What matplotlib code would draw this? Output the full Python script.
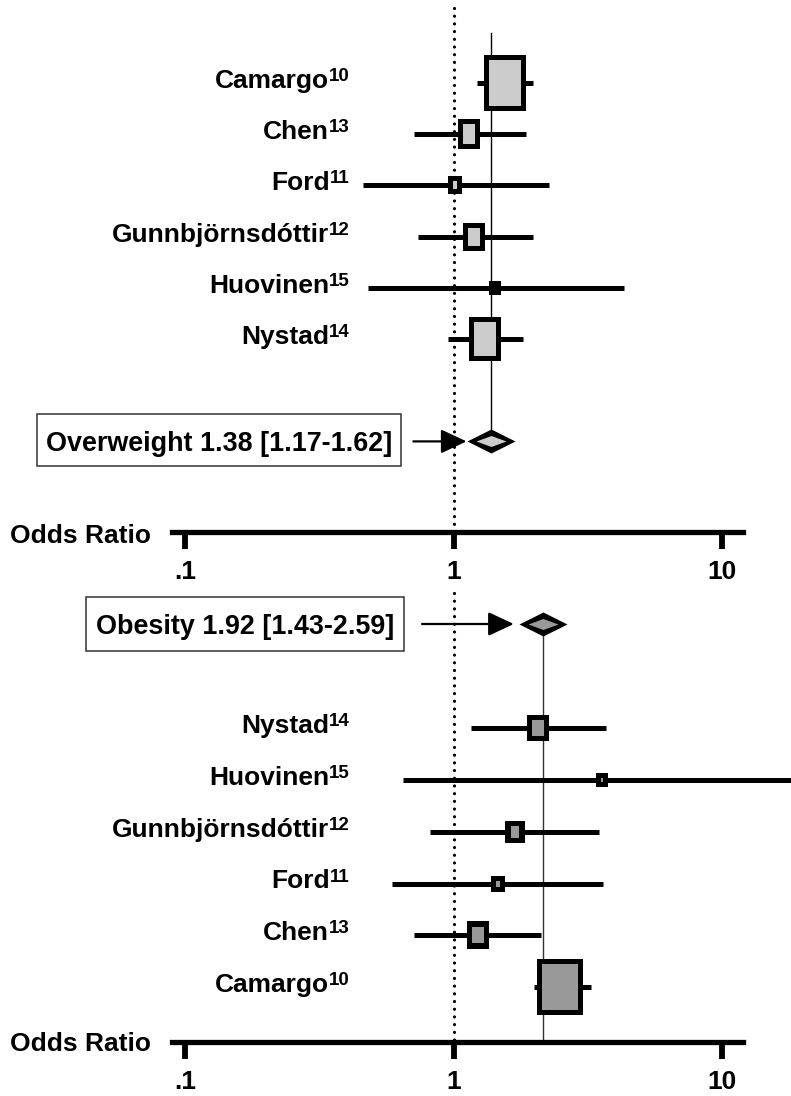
import numpy as np
import matplotlib
matplotlib.use("Agg")
import matplotlib.pyplot as plt
from matplotlib.path import Path
from matplotlib.markers import MarkerStyle
from matplotlib.patches import Rectangle
from matplotlib.ticker import NullLocator
from matplotlib.transforms import blended_transform_factory, offset_copy

# ---------------- data ----------------
ow_studies = ["Camargo", "Chen", "Ford", "Gunnbjörnsdóttir", "Huovinen", "Nystad"]
ow_refs = ["10", "13", "11", "12", "15", "14"]
ow_or = [1.55, 1.14, 1.01, 1.19, 1.43, 1.31]
ow_lo = [1.22, 0.71, 0.46, 0.74, 0.48, 0.95]
ow_hi = [1.98, 1.86, 2.27, 1.98, 4.33, 1.81]
ow_weight = [47.5, 11.0, 3.4, 10.1, 1.5, 26.4]
ow_pooled = 1.38
ow_label = "Overweight 1.38 [1.17-1.62]"

ob_studies = ["Nystad", "Huovinen", "Gunnbjörnsdóttir", "Ford", "Chen", "Camargo"]
ob_refs = ["14", "15", "12", "11", "13", "10"]
ob_or = [2.07, 3.57, 1.70, 1.46, 1.23, 2.49]
ob_lo = [1.16, 0.65, 0.82, 0.59, 0.71, 1.99]
ob_hi = [3.70, 20.0, 3.47, 3.59, 2.11, 3.24]
ob_weight = [11.1, 2.3, 7.3, 3.5, 11.9, 63.8]
ob_pooled = 2.15
ob_label = "Obesity 1.92 [1.43-2.59]"

tick_vals = [0.1, 1, 10]
tick_labels = [".1", "1", "10"]
axis_title = "Odds Ratio"

# ---------------- style / layout ----------------
W, H = 791, 1096
plt.rcParams['font.family'] = ['Liberation Sans', 'DejaVu Sans']
plt.rcParams['font.weight'] = 'bold'
fig = plt.figure(figsize=(W / 100, H / 100), dpi=100)

PT = 0.72  # points per pixel at 100 dpi


def fx(px):
    return px / W


def fy(py):
    return 1 - py / H


ONE_PX = 453.5
DECADE = 268.5
XMIN = 10 ** (-ONE_PX / DECADE)
XMAX = 10 ** ((W - ONE_PX) / DECADE)
SPINE_L = 10 ** ((172 - ONE_PX) / DECADE)
SPINE_R = 10 ** ((743 - ONE_PX) / DECADE)

LIGHT = "#cccccc"
DARK = "#999999"
CI_LW = 5.0 * PT
EDGE = 5.2  # px, box border


def poly_marker(v):
    v = list(v) + [v[0]]
    codes = [Path.MOVETO] + [Path.LINETO] * (len(v) - 2) + [Path.CLOSEPOLY]
    return MarkerStyle(Path(v, codes), joinstyle='miter')


def rect_marker(w, h):
    m = max(w, h)
    a, b = w / m / 2, h / m / 2
    return poly_marker([(-a, -b), (a, -b), (a, b), (-a, b)]), m


def diamond_marker(w, h):
    m = max(w, h)
    a, b = w / m / 2, h / m / 2
    return poly_marker([(-a, 0), (0, b), (a, 0), (0, -b)]), m


def setup_axis(ax, ylim):
    ax.set_xscale('log')
    ax.set_xlim(XMIN, XMAX)
    ax.set_ylim(*ylim)
    for s in ['top', 'left', 'right']:
        ax.spines[s].set_visible(False)
    ax.spines['bottom'].set_linewidth(3.8)
    ax.spines['bottom'].set_bounds(SPINE_L, SPINE_R)
    ax.set_xticks(tick_vals)
    ax.set_xticklabels(tick_labels)
    ax.xaxis.set_minor_locator(NullLocator())
    ax.tick_params(axis='x', direction='out', length=12, width=4.2, pad=8.5,
                   labelsize=19)
    ax.set_yticks([])
    ax.patch.set_visible(False)


def draw_label(ax, row, name, ref, renderer):
    base = blended_transform_factory(fig.transFigure, ax.transData)
    sup = ax.text(fx(350), row, ref, ha='right', va='baseline', fontsize=13.5,
                  fontweight='bold',
                  transform=offset_copy(base, fig=fig, x=0, y=2, units='dots'))
    bb = sup.get_window_extent(renderer)
    xfrac = fig.transFigure.inverted().transform((bb.x0, 0))[0]
    ax.text(xfrac, row, name, ha='right', va='baseline', fontsize=19,
            fontweight='bold',
            transform=offset_copy(base, fig=fig, x=0, y=-5, units='dots'))


def draw_box(ax, x, y, w_out, h_out, fill):
    mk_o, s_o = rect_marker(w_out, h_out)
    ax.plot([x], [y], marker=mk_o, ms=s_o * PT, mfc='black', mew=0, ls='none', zorder=3)
    w_in, h_in = w_out - 2 * EDGE, h_out - 2 * EDGE
    if w_in > 1.5 and h_in > 1.5:
        mk_i, s_i = rect_marker(w_in, h_in)
        ax.plot([x], [y], marker=mk_i, ms=s_i * PT, mfc=fill, mew=0, ls='none',
                zorder=3.5)


def draw_diamond(ax, x, y, fill):
    mk_o, s_o = diamond_marker(48, 24)
    ax.plot([x], [y], marker=mk_o, ms=s_o * PT, mfc='black', mew=0, ls='none', zorder=4)
    mk_i, s_i = diamond_marker(30, 11)
    ax.plot([x], [y], marker=mk_i, ms=s_i * PT, mfc=fill, mew=0, ls='none', zorder=4.5)


def draw_studies(ax, rows, names, refs, ors, los, his, weights, fill, aspect, renderer):
    wmax = max(weights)
    for r, n, rf, o, lo, hi, w in zip(rows, names, refs, ors, los, his, weights):
        ax.plot([lo, hi], [r, r], color='black', lw=CI_LW, solid_capstyle='butt', zorder=2)
        s = 52 * np.sqrt(w / wmax)
        draw_box(ax, o, r, aspect * s + 4.8, s + 4.8, fill)
        draw_label(ax, r, n, rf, renderer)


renderer = fig.canvas.get_renderer()

# ---------------- top panel (overweight) ----------------
TOP0, TOPSTEP = 83, 51.2
ax1 = fig.add_axes([0, fy(532), 1, fy(0) - fy(532)])
setup_axis(ax1, ((532 - TOP0) / TOPSTEP, -TOP0 / TOPSTEP))
ow_rows = list(range(len(ow_studies)))
ow_pool_row = 7
ax1.plot([1, 1], [(8 - TOP0) / TOPSTEP, (532 - TOP0) / TOPSTEP], color='black',
         lw=2.3, ls=(0, (0.01, 2.4)), dash_capstyle='round', zorder=1)
ax1.plot([ow_pooled, ow_pooled], [(33 - TOP0) / TOPSTEP, ow_pool_row],
         color='black', lw=1.0, zorder=1)
draw_studies(ax1, ow_rows, ow_studies, ow_refs, ow_or, ow_lo, ow_hi, ow_weight,
             LIGHT, 0.72, renderer)
draw_diamond(ax1, ow_pooled, ow_pool_row, LIGHT)
ax1.annotate('', xy=(ow_pooled, ow_pool_row), xytext=(-77.7 * PT, 0),
             textcoords='offset points',
             arrowprops=dict(arrowstyle='-|>,head_length=0.79,head_width=0.37',
                             mutation_scale=20, lw=1.6, color='black',
                             shrinkA=0, shrinkB=24.5 * PT))

# ---------------- bottom panel (obesity) ----------------
BOT0, BOTSTEP = 624, 51.9
ax2 = fig.add_axes([0, fy(1041.7), 1, fy(590) - fy(1041.7)])
setup_axis(ax2, ((1041.7 - BOT0) / BOTSTEP, (590 - BOT0) / BOTSTEP))
ob_rows = [r + 2 for r in range(len(ob_studies))]
ob_pool_row = 0
ax2.plot([1, 1], [(593 - BOT0) / BOTSTEP, (1041.7 - BOT0) / BOTSTEP], color='black',
         lw=2.3, ls=(0, (0.01, 2.4)), dash_capstyle='round', zorder=1)
ax2.plot([ob_pooled, ob_pooled], [ob_pool_row, (1041.7 - BOT0) / BOTSTEP],
         color='#333333', lw=1.0, zorder=1)
draw_studies(ax2, ob_rows, ob_studies, ob_refs, ob_or, ob_lo, ob_hi, ob_weight,
             DARK, 0.81, renderer)
draw_diamond(ax2, ob_pooled, ob_pool_row, DARK)
ax2.annotate('', xy=(ob_pooled, ob_pool_row), xytext=(-120.7 * PT, 0),
             textcoords='offset points',
             arrowprops=dict(arrowstyle='-|>,head_length=0.79,head_width=0.37',
                             mutation_scale=20, lw=1.6, color='black',
                             shrinkA=0, shrinkB=29 * PT))

# ---------------- label boxes & axis titles ----------------
fig.add_artist(Rectangle((fx(37), fy(466)), fx(401) - fx(37), fy(414) - fy(466),
                         transform=fig.transFigure, fill=False, ec='#333333', lw=1.1))
fig.text(fx(219), fy(451), ow_label, ha='center', va='baseline', fontsize=19.4,
         fontweight='bold')
fig.add_artist(Rectangle((fx(86), fy(650.7)), fx(403.5) - fx(86), fy(596.7) - fy(650.7),
                         transform=fig.transFigure, fill=False, ec='#333333', lw=1.1))
fig.text(fx(244.7), fy(634), ob_label, ha='center', va='baseline', fontsize=19.4,
         fontweight='bold')

fig.text(fx(151), fy(543), axis_title, ha='right', va='baseline', fontsize=19,
         fontweight='bold')
fig.text(fx(151), fy(1051), axis_title, ha='right', va='baseline', fontsize=19,
         fontweight='bold')

fig.savefig('out.png', dpi=100)
